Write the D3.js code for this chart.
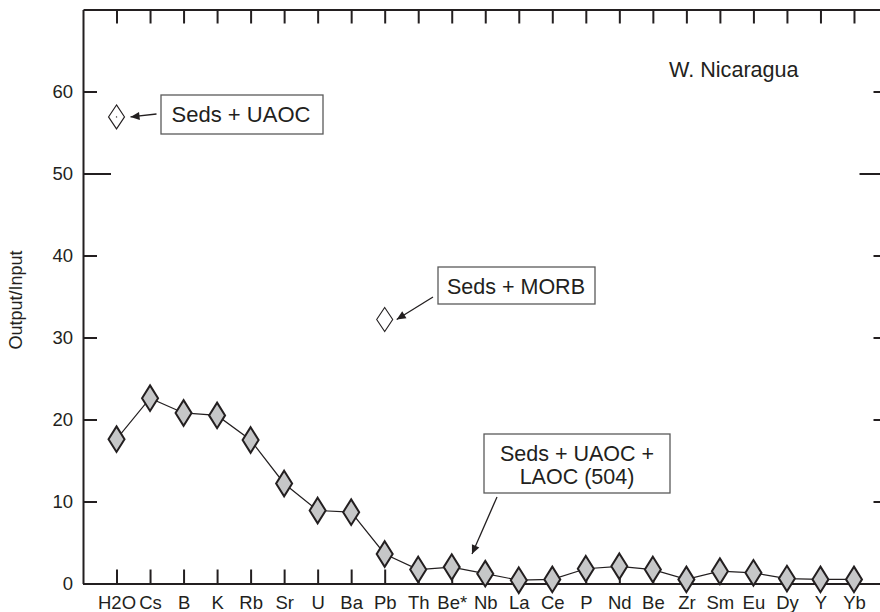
<!DOCTYPE html>
<html>
<head>
<meta charset="utf-8">
<script src="https://cdn.jsdelivr.net/npm/d3@7/dist/d3.min.js"></script>
<style>
  html, body { margin: 0; padding: 0; background: #fff; }
  svg { display: block; font-family: "Liberation Sans", Arial, sans-serif; }
</style>
</head>
<body>
<svg id="chart" width="880" height="612"></svg>
<script>
// Element order along the x axis
const elements = ["H2O", "Cs", "B", "K", "Rb", "Sr", "U", "Ba", "Pb", "Th", "Be*", "Nb",
                  "La", "Ce", "P", "Nd", "Be", "Zr", "Sm", "Eu", "Dy", "Y", "Yb"];
// Seds + UAOC + LAOC (504) output/input ratios
const ratioFull = [17.6, 22.6, 20.8, 20.5, 17.5, 12.2, 8.9, 8.7, 3.6, 1.7, 2.0, 1.2,
                   0.4, 0.5, 1.8, 2.1, 1.7, 0.5, 1.5, 1.3, 0.6, 0.5, 0.5];
// Single-point alternatives
const altElements = ["H2O", "Pb"];
const altValues = [56.9, 32.2];
const altLabels = ["Seds + UAOC", "Seds + MORB"];
const yTicks = [0, 10, 20, 30, 40, 50, 60];
const regionLabel = "W. Nicaragua";
const yTitle = "Output/Input";
const fullLabelLines = ["Seds + UAOC +", "LAOC (504)"];

const ink = "#231f20";
const svg = d3.select("#chart");

const plotLeft = 83, plotRight = 887.5, plotTop = 9.5, plotBottom = 583.5;
const x = d3.scaleLinear().domain([0, elements.length + 1]).range([plotLeft, plotRight]);
const y = d3.scaleLinear().domain([0, 70]).range([plotBottom, plotTop]);
const idx = name => elements.indexOf(name) + 1;
const xTickVals = d3.range(1, elements.length + 1);

// arrowhead marker
svg.append("defs").append("marker")
  .attr("id", "head").attr("viewBox", "0 0 10 10")
  .attr("refX", 10).attr("refY", 5)
  .attr("markerWidth", 10).attr("markerHeight", 9)
  .attr("markerUnits", "userSpaceOnUse")
  .attr("orient", "auto")
  .append("path").attr("d", "M0,0.5 L10,5 L0,9.5 Z").attr("fill", ink);

function styleAxis(g) {
  g.selectAll("path.domain").attr("stroke", ink).attr("stroke-width", 2);
  g.selectAll(".tick line").attr("stroke", ink).attr("stroke-width", 2);
  g.selectAll(".tick text").attr("fill", ink);
}

// bottom axis with labels
svg.append("g").attr("transform", `translate(0,${plotBottom})`)
  .call(d3.axisBottom(x).tickValues(xTickVals).tickSize(-14).tickSizeOuter(0)
        .tickPadding(12).tickFormat(i => elements[i - 1]))
  .call(g => g.attr("font-size", 18.5).attr("font-family", null))
  .call(styleAxis);

// top axis, ticks only
svg.append("g").attr("transform", `translate(0,${plotTop})`)
  .call(d3.axisTop(x).tickValues(xTickVals).tickSize(-14).tickSizeOuter(0).tickFormat(""))
  .call(styleAxis);

// left axis with labels
const gl = svg.append("g").attr("transform", `translate(${plotLeft},0)`)
  .call(d3.axisLeft(y).tickValues(yTicks).tickSize(-14).tickSizeOuter(0).tickPadding(10))
  .call(g => g.attr("font-size", 18.5).attr("font-family", null))
  .call(styleAxis);
gl.selectAll(".tick").filter(d => d === 50).select("line").attr("x2", 28);

// right axis, ticks only
const gr = svg.append("g").attr("transform", `translate(${plotRight},0)`)
  .call(d3.axisRight(y).tickValues(yTicks).tickSize(-14).tickSizeOuter(0).tickFormat(""))
  .call(styleAxis);
gr.selectAll(".tick").filter(d => d === 50).select("line").attr("x2", -28);

// y axis title
svg.append("text")
  .attr("transform", `translate(22,300) rotate(-90)`)
  .attr("text-anchor", "middle").attr("font-size", 18).attr("fill", ink)
  .text(yTitle);

// region label
svg.append("text").attr("x", 669).attr("y", 77)
  .attr("font-size", 21.6).attr("fill", ink).text(regionLabel);

const diamond = (cx, cy, hw, hh) =>
  `M${cx},${cy - hh} L${cx + hw},${cy} L${cx},${cy + hh} L${cx - hw},${cy} Z`;

// connecting line
svg.append("path")
  .datum(ratioFull)
  .attr("fill", "none").attr("stroke", ink).attr("stroke-width", 1.2)
  .attr("d", d3.line().x((d, i) => x(i + 1)).y(d => y(d)));

// filled diamonds
svg.append("g").selectAll("path").data(ratioFull).join("path")
  .attr("d", (d, i) => diamond(x(i + 1), y(d), 8, 12.8))
  .attr("fill", "#c6c7c8").attr("stroke", ink).attr("stroke-width", 2)
  .attr("stroke-linejoin", "miter");

// open diamonds
const openG = svg.append("g");
openG.selectAll("path").data(altValues).join("path")
  .attr("d", (d, i) => diamond(x(idx(altElements[i])), y(d), 8, 12))
  .attr("fill", "#fff").attr("stroke", ink).attr("stroke-width", 1.1);
// centre dot on the UAOC point
openG.append("circle")
  .attr("cx", x(idx(altElements[0]))).attr("cy", y(altValues[0]))
  .attr("r", 0.7).attr("fill", ink);

// label boxes
function box(x0, y0, w, h) {
  svg.append("rect").attr("x", x0).attr("y", y0).attr("width", w).attr("height", h)
    .attr("fill", "#fff").attr("stroke", "#5a5a5a").attr("stroke-width", 1.3);
}
function arrow(x1, y1, x2, y2) {
  svg.append("line").attr("x1", x1).attr("y1", y1).attr("x2", x2).attr("y2", y2)
    .attr("stroke", ink).attr("stroke-width", 1.3).attr("marker-end", "url(#head)");
}

// Seds + UAOC
box(161, 95, 162, 39);
svg.append("text").attr("x", 241).attr("y", 122).attr("text-anchor", "middle")
  .attr("font-size", 22).attr("fill", ink).text(altLabels[0]);
arrow(156.5, 114, x(idx(altElements[0])) + 14, y(altValues[0]));

// Seds + MORB
box(438, 267, 157, 37);
svg.append("text").attr("x", 516).attr("y", 294).attr("text-anchor", "middle")
  .attr("font-size", 21.5).attr("fill", ink).text(altLabels[1]);
arrow(433, 297, x(idx(altElements[1])) + 12, y(altValues[1]));

// Seds + UAOC + LAOC (504)
box(484, 434, 186, 59);
svg.append("text").attr("text-anchor", "middle").attr("font-size", 21.5).attr("fill", ink)
  .selectAll("tspan").data(fullLabelLines).join("tspan")
  .attr("x", 577).attr("y", (d, i) => 461 + i * 23).text(d => d);
arrow(497, 497, 472, 554);
</script>
</body>
</html>
